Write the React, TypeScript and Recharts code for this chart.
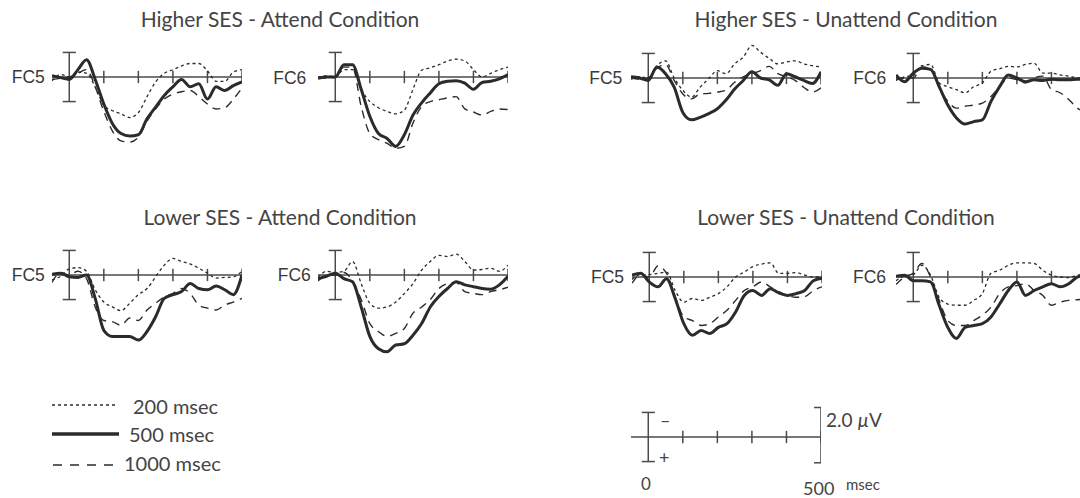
import React from 'react'
import { LineChart, Line, XAxis, YAxis, ReferenceLine } from 'recharts'

// time points in msec, values in µV (positive plotted downward)
const times = [-50, -25, 0, 25, 50, 75, 100, 125, 150, 175, 200, 225, 250, 275, 300, 325, 350, 375, 400, 425, 450, 475, 500]
const tickTimes = [100, 200, 300, 400, 500]
const scaleBaseline = [0, 0, 0, 0, 0, 0, 0, 0, 0, 0, 0, 0, 0, 0, 0, 0, 0, 0, 0, 0, 0, 0, 0]

// Higher SES - Attend
const hiAttFC5_200 = [0.3, -0.2, 0, -0.4, -0.3, 0.8, 2.3, 2.75, 3.0, 3.3, 2.9, 1.6, 0.4, -0.3, -0.6, -0.9, -1.1, -1.1, -0.5, 0.35, 0.35, -0.4, -0.6]
const hiAttFC5_500 = [-0.1, 0.05, 0.2, -0.6, -1.4, 0.2, 2.2, 3.8, 4.6, 4.8, 4.7, 3.4, 2.45, 1.5, 0.8, 0.2, 0.8, 0.55, 1.8, 0.8, 1.1, 0.7, 0.4]
const hiAttFC5_1000 = [0.2, 0.1, 0, -0.3, -0.6, 0.8, 2.8, 4.4, 5.2, 5.3, 4.9, 3.6, 2.6, 1.8, 1.4, 1.2, 1.1, 1.6, 2.2, 2.6, 2.5, 1.8, 0.9]
const hiAttFC6_200 = [0.1, -0.1, 0, -0.6, -0.6, 1.0, 2.0, 2.5, 2.8, 3.0, 2.7, 1.0, -0.55, -0.75, -1.0, -1.3, -1.45, -1.3, -0.6, 0, -0.3, -0.6, -0.8]
const hiAttFC6_500 = [0.1, 0, 0, -1.0, -1.0, 1.0, 3.2, 4.6, 5.0, 5.65, 4.7, 3.1, 2.1, 1.3, 0.55, 0.35, 0.3, 0.5, 1.0, 0.45, 0.35, 0.15, -0.2]
const hiAttFC6_1000 = [0, 0.1, 0, -0.8, -0.8, 2.4, 4.6, 5.1, 5.4, 5.8, 5.65, 3.75, 2.4, 2.0, 1.85, 1.7, 1.6, 2.6, 2.85, 3.1, 2.8, 2.6, 2.65]

// Higher SES - Unattend
const hiUnaFC5_200 = [0.1, -0.1, 0, -1.0, -1.4, 0, 1.0, 1.55, 0.75, 0.05, -0.6, -0.35, -1.15, -1.7, -2.65, -2.1, -1.6, -1.15, -1.3, -1.4, -1.15, -1.0, -0.9]
const hiUnaFC5_500 = [-0.1, 0, 0.2, -0.9, -0.35, 0.75, 2.8, 3.4, 3.2, 2.9, 2.5, 1.8, 0.9, 0.2, -0.5, 0, 0.15, 0.6, -0.35, -0.1, 0.2, 0.45, -0.5]
const hiUnaFC5_1000 = [0, 0.1, 0, -0.8, -1.1, 0.2, 1.3, 1.7, 1.3, 1.25, 1.15, 1.0, 0.35, -0.1, -0.35, -0.6, -0.95, -0.35, -0.1, 0.2, 0.75, 1.15, 0.8]
const hiUnaFC6_200 = [0.2, -0.1, -0.2, -1.0, -1.1, 0.4, 0.7, 0.95, 1.2, 0.7, 0.4, -0.55, -0.75, -0.95, -0.9, -1.1, -1.2, -0.4, -0.4, -0.25, -0.15, 0, 0]
const hiUnaFC6_500 = [-0.25, 0.3, -0.4, -0.8, -0.7, 0.7, 2.2, 3.25, 3.75, 3.55, 3.4, 1.9, 0.7, -0.25, 0, 0.3, 0.15, 0.2, 0.1, 0.15, 0.15, 0.1, 0.1]
const hiUnaFC6_1000 = [0.1, 0, 0, -0.9, -0.8, 0.8, 1.9, 2.45, 2.3, 2.2, 2.05, 1.5, 0.7, 0, 0.15, 0.4, 0, -0.15, 0.95, 1.2, 1.75, 2.45, 2.8]

// Lower SES - Attend
const loAttFC5_200 = [0.4, 0.1, -0.5, -0.6, -0.3, 1.2, 2.2, 2.6, 2.9, 2.3, 1.6, 1.1, 0.15, -0.8, -1.35, -1.1, -0.9, -0.55, -0.15, 0.25, 0.2, 0.15, -0.3]
const loAttFC5_500 = [-0.05, -0.15, 0.15, 0.2, 0, 1.9, 4.5, 5.0, 5.0, 5.0, 5.3, 4.6, 3.4, 1.9, 1.6, 1.35, 0.7, 1.1, 1.2, 0.9, 1.2, 1.6, 0]
const loAttFC5_1000 = [0.6, -0.2, 0, -0.3, 0.3, 2.6, 3.7, 3.8, 4.1, 3.5, 3.7, 2.85, 2.3, 1.8, 1.5, 1.1, 1.5, 2.45, 2.7, 2.85, 2.45, 2.2, 1.9]
const loAttFC6_200 = [0.2, -0.3, -0.2, -0.3, -1.1, 0.7, 2.3, 2.7, 2.6, 2.2, 1.5, 0.7, -0.4, -1.1, -1.6, -1.5, -1.7, -1.1, -0.4, -0.45, -0.55, -0.3, -0.8]
const loAttFC6_500 = [0.3, 0.1, -0.15, 0.3, 0.55, 2.6, 5.0, 6.0, 6.25, 5.7, 5.6, 4.9, 3.95, 2.6, 1.75, 1.1, 0.55, 0.8, 0.95, 1.1, 1.15, 0.8, 0.1]
const loAttFC6_1000 = [0.5, 0, 0, -0.2, 0.5, 2.0, 3.95, 4.6, 5.0, 4.75, 4.35, 3.1, 2.6, 2.0, 1.1, 0.7, 0.6, 1.35, 1.5, 1.6, 1.35, 1.2, 1.0]

// Lower SES - Unattend
const loUnaFC5_200 = [0.2, -0.2, -0.2, -0.3, -0.4, 1.1, 2.05, 1.75, 1.9, 1.65, 1.35, 0.8, 0, -0.4, -0.85, -1.05, -1.15, -0.3, -0.3, -0.35, -0.15, 0, 0]
const loUnaFC5_500 = [-0.15, -0.3, 0.4, 0.8, 0.15, 1.75, 3.8, 4.75, 4.35, 4.6, 4.1, 3.8, 2.85, 1.5, 1.1, 1.5, 0.95, 1.3, 1.5, 1.35, 1.1, 0.3, 0.1]
const loUnaFC5_1000 = [0.5, -0.2, 0, -0.9, -0.3, 1.6, 3.25, 3.55, 3.95, 3.8, 3.25, 2.7, 1.9, 1.1, 0.8, 0.4, 0.8, 1.2, 1.5, 1.65, 1.6, 1.1, 0.8]
const loUnaFC6_200 = [0.3, -0.1, -0.2, -0.95, -0.15, 1.65, 2.2, 2.3, 2.3, 1.9, 1.35, -0.3, -0.55, -0.95, -1.15, -1.15, -1.1, -0.55, -0.15, 0, 0.05, -0.15, -0.2]
const loUnaFC6_500 = [-0.05, -0.15, 0.3, 0.3, 0.4, 2.3, 4.1, 5.0, 4.1, 3.95, 3.8, 3.25, 2.2, 1.1, 0.4, 1.5, 1.1, 0.8, 0.55, 0.8, 0.55, 0, -0.2]
const loUnaFC6_1000 = [0.6, 0, -0.3, -1.1, 0, 1.9, 3.55, 3.95, 3.95, 3.55, 3.1, 2.45, 1.35, 0.8, 0.7, 0.55, 1.1, 1.5, 2.3, 2.05, 1.9, 1.85, 1.8]

const titles = ['Higher SES - Attend Condition', 'Higher SES - Unattend Condition', 'Lower SES - Attend Condition', 'Lower SES - Unattend Condition']
const legendLabels = ['200 msec', '500 msec', '1000 msec']

const PW = 190
const PH = 129
const X_DOMAIN: [number, number] = [-50, 500]
const Y_DOMAIN: [number, number] = [-3.5, 7]
const INK = '#2b2b2b'
const AXIS = '#4a4a4a'
const TEXT = '#444'
const DOTTED = '3 3'
const DASHED = '8 6'
const xOff = (50 * PW) / 550
const yOff = (3.5 * PH) / 10.5

function Axes({ rightBar }: { rightBar?: boolean }) {
  return (
    <>
      {!rightBar && <ReferenceLine y={0} stroke={AXIS} strokeWidth={1.5} ifOverflow="visible" />}
      <ReferenceLine segment={[{ x: 0, y: -2 }, { x: 0, y: 2 }]} stroke={AXIS} strokeWidth={1.5} ifOverflow="visible" />
      <ReferenceLine segment={[{ x: -19, y: -2 }, { x: 19, y: -2 }]} stroke={AXIS} strokeWidth={1.5} ifOverflow="visible" />
      <ReferenceLine segment={[{ x: -19, y: 2 }, { x: 19, y: 2 }]} stroke={AXIS} strokeWidth={1.5} ifOverflow="visible" />
      {tickTimes.map((t) => (
        <ReferenceLine key={t} segment={[{ x: t, y: -0.5 }, { x: t, y: 0.5 }]} stroke={AXIS} strokeWidth={1.5} ifOverflow="visible" />
      ))}
      {rightBar && (
        <>
          <ReferenceLine segment={[{ x: 500, y: -2.4 }, { x: 500, y: 2.1 }]} stroke={AXIS} strokeWidth={1.5} ifOverflow="visible" />
          <ReferenceLine segment={[{ x: 480, y: -2.4 }, { x: 520, y: -2.4 }]} stroke={AXIS} strokeWidth={1.5} ifOverflow="visible" />
          <ReferenceLine segment={[{ x: 480, y: 2.1 }, { x: 520, y: 2.1 }]} stroke={AXIS} strokeWidth={1.5} ifOverflow="visible" />
          <ReferenceLine segment={[{ x: 503, y: -0.5 }, { x: 503, y: 0.5 }]} stroke={AXIS} strokeWidth={2.5} ifOverflow="visible" />
        </>
      )}
    </>
  )
}

interface PanelProps {
  x0: number
  axisY: number
  s200: number[]
  s500: number[]
  s1000: number[]
}

function ErpPanel({ x0, axisY, s200, s500, s1000 }: PanelProps) {
  const data = times.map((t, i) => ({ t, a: s200[i], b: s500[i], c: s1000[i] }))
  return (
    <div style={{ position: 'absolute', left: x0 - xOff, top: axisY - yOff }}>
      <LineChart width={PW} height={PH} data={data} margin={{ top: 0, right: 0, bottom: 0, left: 0 }}>
        <XAxis dataKey="t" type="number" domain={X_DOMAIN} hide />
        <YAxis type="number" domain={Y_DOMAIN} reversed hide />
        <Axes />
        <Line type="monotone" dataKey="a" stroke={INK} strokeWidth={1.3} strokeDasharray={DOTTED} dot={false} isAnimationActive={false} />
        <Line type="monotone" dataKey="c" stroke={INK} strokeWidth={1.4} strokeDasharray={DASHED} dot={false} isAnimationActive={false} />
        <Line type="monotone" dataKey="b" stroke={INK} strokeWidth={3} dot={false} isAnimationActive={false} />
      </LineChart>
    </div>
  )
}

function ScaleBar({ x0, axisY }: { x0: number; axisY: number }) {
  const data = times.map((t, i) => ({ t, z: scaleBaseline[i] }))
  return (
    <div style={{ position: 'absolute', left: x0 - xOff, top: axisY - yOff }}>
      <LineChart width={PW} height={PH} data={data} margin={{ top: 0, right: 0, bottom: 0, left: 0 }}>
        <XAxis dataKey="t" type="number" domain={X_DOMAIN} hide />
        <YAxis type="number" domain={Y_DOMAIN} reversed hide />
        <Line type="linear" dataKey="z" stroke={AXIS} strokeWidth={1.5} dot={false} isAnimationActive={false} />
        <Axes rightBar />
      </LineChart>
    </div>
  )
}

const panels = [
  { x0: 69, axisY: 77, label: 'FC5', lx: 11.7, s200: hiAttFC5_200, s500: hiAttFC5_500, s1000: hiAttFC5_1000 },
  { x0: 335, axisY: 77.3, label: 'FC6', lx: 273.3, s200: hiAttFC6_200, s500: hiAttFC6_500, s1000: hiAttFC6_1000 },
  { x0: 648.5, axisY: 77.7, label: 'FC5', lx: 589.3, s200: hiUnaFC5_200, s500: hiUnaFC5_500, s1000: hiUnaFC5_1000 },
  { x0: 913.3, axisY: 78, label: 'FC6', lx: 853.3, s200: hiUnaFC6_200, s500: hiUnaFC6_500, s1000: hiUnaFC6_1000 },
  { x0: 69, axisY: 275, label: 'FC5', lx: 11.7, s200: loAttFC5_200, s500: loAttFC5_500, s1000: loAttFC5_1000 },
  { x0: 335, axisY: 275, label: 'FC6', lx: 277.7, s200: loAttFC6_200, s500: loAttFC6_500, s1000: loAttFC6_1000 },
  { x0: 649, axisY: 276.7, label: 'FC5', lx: 591, s200: loUnaFC5_200, s500: loUnaFC5_500, s1000: loUnaFC5_1000 },
  { x0: 913.3, axisY: 276.7, label: 'FC6', lx: 853, s200: loUnaFC6_200, s500: loUnaFC6_500, s1000: loUnaFC6_1000 },
]

const titlePos = [
  { x: 280, y: 26.7 },
  { x: 846, y: 26.7 },
  { x: 280, y: 225 },
  { x: 846, y: 225 },
]

export default function App() {
  const sans = 'Lato, "Open Sans", sans-serif'
  return (
    <div style={{ position: 'absolute', left: 0, top: 0, width: 1080, height: 498, overflow: 'hidden', background: '#fff' }}>
      <svg width={1080} height={498} style={{ position: 'absolute', left: 0, top: 0 }}>
        {titles.map((t, i) => (
          <text key={t} x={titlePos[i].x} y={titlePos[i].y} textAnchor="middle" fontFamily={sans} fontWeight={400} fontSize={21} fill={TEXT}>
            {t}
          </text>
        ))}
        {panels.map((p, i) => (
          <text key={i} x={p.lx} y={p.axisY + 6.3} fontFamily='"Liberation Sans", Arial, sans-serif' fontSize={17.5} fill="#3a3a3a">
            {p.label}
          </text>
        ))}
        {/* legend */}
        <line x1={52} x2={118} y1={405} y2={405} stroke={INK} strokeWidth={1.3} strokeDasharray={DOTTED} />
        <line x1={52} x2={119} y1={434} y2={434} stroke={INK} strokeWidth={3.5} />
        <line x1={53} x2={118} y1={465} y2={465} stroke={INK} strokeWidth={1.3} strokeDasharray="9 8" />
        <text x={133} y={414} fontFamily={sans} fontSize={20} fill={TEXT}>{legendLabels[0]}</text>
        <text x={129} y={441.7} fontFamily={sans} fontSize={20} fill={TEXT}>{legendLabels[1]}</text>
        <text x={124} y={470.7} fontFamily={sans} fontSize={20} fill={TEXT}>{legendLabels[2]}</text>
        {/* scale labels */}
        <text x={660} y={427} fontFamily={sans} fontSize={18} fill={TEXT}>–</text>
        <text x={659} y={464} fontFamily={sans} fontSize={18} fill={TEXT}>+</text>
        <text x={826} y={427} fontFamily={sans} fontSize={19} fill={TEXT}>
          2.0 <tspan fontStyle="italic">µ</tspan>V
        </text>
        <text x={641} y={490} fontFamily={sans} fontSize={17} fill={TEXT}>0</text>
        <text x={803} y={494.5} fontFamily={sans} fontSize={18} fill={TEXT}>500</text>
        <text x={846} y={490} fontFamily={sans} fontSize={15} fill={TEXT}>msec</text>
      </svg>
      {panels.map((p, i) => (
        <ErpPanel key={i} x0={p.x0} axisY={p.axisY} s200={p.s200} s500={p.s500} s1000={p.s1000} />
      ))}
      <ScaleBar x0={648.3} axisY={436.7} />
    </div>
  )
}
